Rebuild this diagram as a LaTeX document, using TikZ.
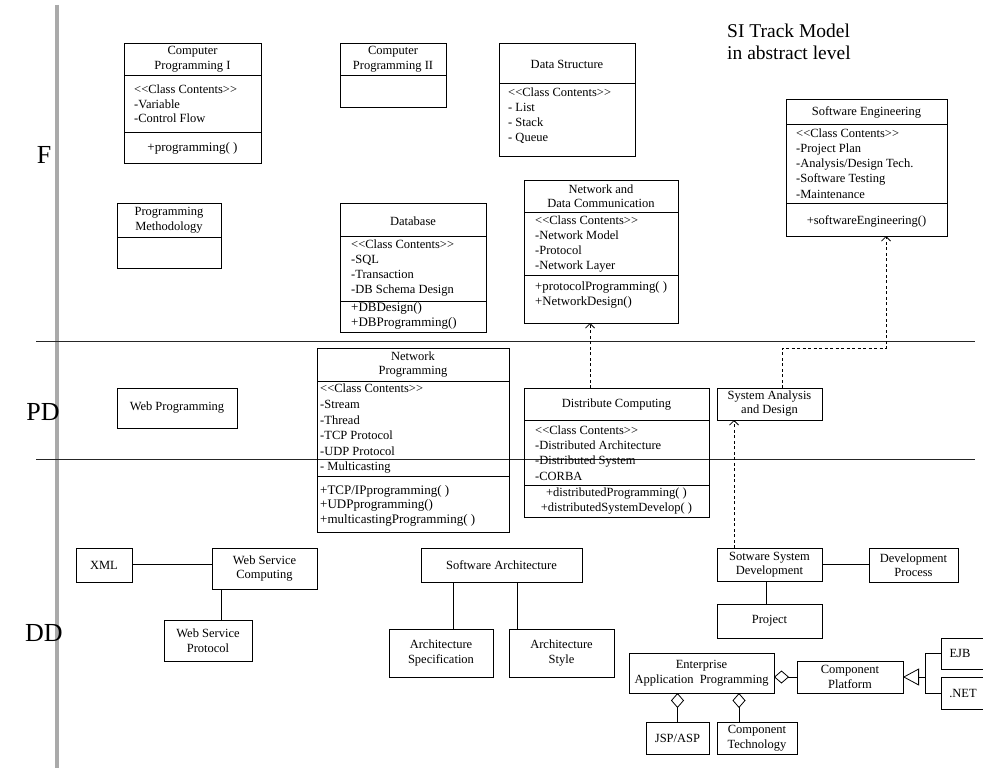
\documentclass[tikz,border=0pt]{standalone}
\usepackage{fontspec}
\setmainfont{Liberation Serif}
\usetikzlibrary{arrows.meta}
\newcommand\cc{<\kern0pt<Class Contents>\kern0pt>}
\newcommand\fs{\fontsize{12.5}{14.5}\selectfont}
\newcommand\fm{\fontsize{13}{15.5}\selectfont}
\tikzset{
  bx/.style={draw, line width=0.8pt, inner sep=1pt, outer sep=0pt, anchor=north west, align=center, font=\fs},
  ttl/.style={inner sep=0pt, align=center, font=\fs},
  lst/.style={inner sep=0pt, align=left, anchor=west, font=\fs},
  mth/.style={inner sep=0pt, align=left, anchor=west, font=\fm},
  divl/.style={line width=0.8pt},
  dep/.style={line width=0.8pt, dash pattern=on 3pt off 2.5pt, -{Straight Barb[length=4.5pt,width=9pt]}},
  agg/.style={line width=0.8pt, -{Diamond[open,length=15pt,width=13pt]}},
  inh/.style={line width=0.8pt, -{Triangle[open,length=16pt,width=17pt]}},
  lnk/.style={line width=0.8pt},
  lvl/.style={inner sep=0pt, font=\fontsize{26}{28}\selectfont},
  lane/.style={line width=1pt, black!85},
}
\newcommand\bx[6]{\node[bx, minimum width={(#4-#2)*1pt}, minimum height={(#5-#3)*1pt}] (#1) at (#2,#3) {#6};}
\newcommand\dv[2]{\draw[divl] (#1.west |- 0,#2) -- (#1.east |- 0,#2);}
\begin{document}
\begin{tikzpicture}[x=1pt,y=-1pt]
\useasboundingbox (0,0) rectangle (983,768);
\clip (0,0) rectangle (983,768);
\fill[white] (0,0) rectangle (983,768);
% lanes
\draw[line width=3.5pt, color={rgb,255:red,170;green,170;blue,170}] (57,5) -- (57,768);
\draw[lane] (36,341) -- (975,341);
\draw[lane] (36,459) -- (975,459);
\node[lvl] (lf) at (44,155) {F};
\node[lvl] (lpd) at (43,412) {PD};
\node[lvl] (ldd) at (44,633) {DD};
\node[inner sep=0pt, align=left, anchor=west, font=\fontsize{19.5}{22}\selectfont] (title) at (727,42) {SI Track Model\\in abstract level};

% ---------- F ----------
\bx{cp1}{124}{43}{261}{163}{}
\dv{cp1}{75}\dv{cp1}{132}
\node[ttl] (cp1t) at (192.5,59) {Computer\\Programming I};
\node[lst] (cp1c) at (134,104) {\cc\\-Variable\\-Control Flow};
\node[ttl, font=\fm] (cp1m) at (192.5,148) {+programming( )};

\bx{cp2}{340}{43}{446}{107}{}
\dv{cp2}{75}
\node[ttl] (cp2t) at (393,59) {Computer\\Programming II};

\bx{ds}{499}{43}{635}{156}{}
\dv{ds}{83}
\node[ttl] (dst) at (567,64) {Data Structure};
\node[lst, font=\fontsize{12.5}{15}\selectfont] (dsc) at (508,115.5) {\cc\\- List\\- Stack\\- Queue};

\bx{se}{786}{99}{947}{236}{}
\dv{se}{124}\dv{se}{203}
\node[ttl] (set) at (866.5,112) {Software Engineering};
\node[lst, font=\fontsize{12.5}{15.2}\selectfont] (sec) at (796,163.5) {\cc\\-Project Plan\\-Analysis/Design Tech.\\-Software Testing\\-Maintenance};
\node[ttl] (sem) at (866.5,221) {+softwareEngineering()};

\bx{pm}{117}{203}{221}{268}{}
\dv{pm}{237}
\node[ttl] (pmt) at (169,220) {Programming\\Methodology};

\bx{db}{340}{203}{486}{332}{}
\dv{db}{236}\dv{db}{301}
\node[ttl] (dbt) at (413,221) {Database};
\node[lst, font=\fontsize{12.5}{15}\selectfont] (dbc) at (351,268.5) {\cc\\-SQL\\-Transaction\\-DB Schema Design};
\node[mth] (dbm) at (351,316) {+DBDesign()\\+DBProgramming()};

\bx{ndc}{524}{180}{678}{323}{}
\dv{ndc}{212}\dv{ndc}{275}
\node[ttl] (ndct) at (601,196) {Network and\\Data Communication};
\node[lst, font=\fontsize{12.5}{15}\selectfont] (ndcc) at (535,244) {\cc\\-Network Model\\-Protocol\\-Network Layer};
\node[mth, font=\fontsize{12.8}{14.5}\selectfont] (ndcm) at (535,295) {+protocolProgramming( )\\+NetworkDesign()};

% ---------- PD ----------
\bx{wp}{117}{388}{237}{428}{Web Programming}

\bx{np}{317}{348}{509}{532}{}
\dv{np}{381}\dv{np}{476}
\node[ttl] (npt) at (413,364.5) {Network\\Programming};
\node[lst, font=\fontsize{12.5}{15.6}\selectfont] (npc) at (320,429) {\cc\\-Stream\\-Thread\\-TCP Protocol\\-UDP Protocol\\- Multicasting};
\node[mth, font=\fontsize{13}{14.5}\selectfont] (npm) at (320,505.5) {+TCP/IPprogramming( )\\+UDPprogramming()\\+multicastingProgramming( )};

\bx{dc}{524}{388}{709}{517}{}
\dv{dc}{420}\dv{dc}{485}
\node[ttl] (dct) at (616.5,405) {Distribute Computing};
\node[lst, font=\fontsize{12.5}{15.3}\selectfont] (dcc) at (535,453) {\cc\\-Distributed Architecture\\-Distributed System\\-CORBA};
\node[ttl, font=\fontsize{12.5}{15}\selectfont] (dcm) at (616.5,501.5) {+distributedProgramming( )\\+distributedSystemDevelop( )};

\bx{sad}{717}{388}{822}{420}{}
\node[ttl, font=\fontsize{12.5}{14}\selectfont] (sadt) at (769.5,404) {System Analysis\\and Design};

% ---------- DD ----------
\bx{xml}{76}{548}{132}{582}{XML}
\bx{wsc}{212}{548}{317}{589}{Web Service\\Computing}
\bx{wsp}{164}{620}{252}{661}{Web Service\\Protocol}
\bx{sa}{421}{548}{582}{582}{Software Architecture}
\bx{as}{389}{629}{493}{677}{Architecture\\Specification}
\bx{ast}{509}{629}{614}{677}{Architecture\\Style}
\bx{ssd}{717}{548}{822}{581}{Sotware System\\Development}
\bx{dp}{869}{548}{958}{582}{Development\\Process}
\bx{proj}{717}{604}{822}{638}{Project}
\bx{eap}{629}{653}{774}{693}{Enterprise\\Application~~Programming}
\bx{cpf}{797}{661}{903}{693}{Component\\Platform}
\bx{ejb}{941}{638}{995}{669}{}
\node[ttl] (ejbt) at (960,653) {EJB};
\bx{net}{941}{677}{995}{709}{}
\node[ttl] (nett) at (963,693) {.NET};
\bx{jsp}{646}{722}{709}{754}{JSP/ASP}
\bx{ct}{717}{722}{797}{754}{Component\\Technology}

% ---------- connectors ----------
\draw[dep] ([xshift=66pt]dc.north west) -- ([xshift=66pt]ndc.south west);
\draw[dep] ([xshift=65pt]sad.north west) -- ++(0,-40) -| ([xshift=100pt]se.south west);
\draw[dep] ([xshift=17pt]ssd.north west) -- ([xshift=17pt]sad.south west);

\draw[lnk] (xml.east) ++(0,-1) -- ([yshift=1pt]xml.east -| wsc.west);
\draw[lnk] ([xshift=9pt]wsc.south west) -- ([xshift=9pt]wsc.south west |- wsp.north);
\draw[lnk] ([xshift=32pt]sa.south west) -- ([xshift=32pt]sa.south west |- as.north);
\draw[lnk] ([xshift=96pt]sa.south west) -- ([xshift=96pt]sa.south west |- ast.north);
\draw[lnk] (ssd.east) -- (ssd.east -| dp.west);
\draw[lnk] ([xshift=49pt]ssd.south west) -- ([xshift=49pt]ssd.south west |- proj.north);

\draw[agg] (cpf.west) -- (cpf.west -| eap.east);
\draw[agg] (jsp.north) -- (jsp.north |- eap.south);
\draw[agg] ([xshift=22pt]ct.north west) -- ([xshift=22pt]ct.north west |- eap.south);

\coordinate (jn) at (925,677);
\draw[inh] (jn) -- (cpf.east);
\draw[lnk] (jn |- ejb.west) -- (ejb.west);
\draw[lnk] (jn |- ejb.west) -- (jn |- net.west) -- (net.west);
\end{tikzpicture}
\end{document}
